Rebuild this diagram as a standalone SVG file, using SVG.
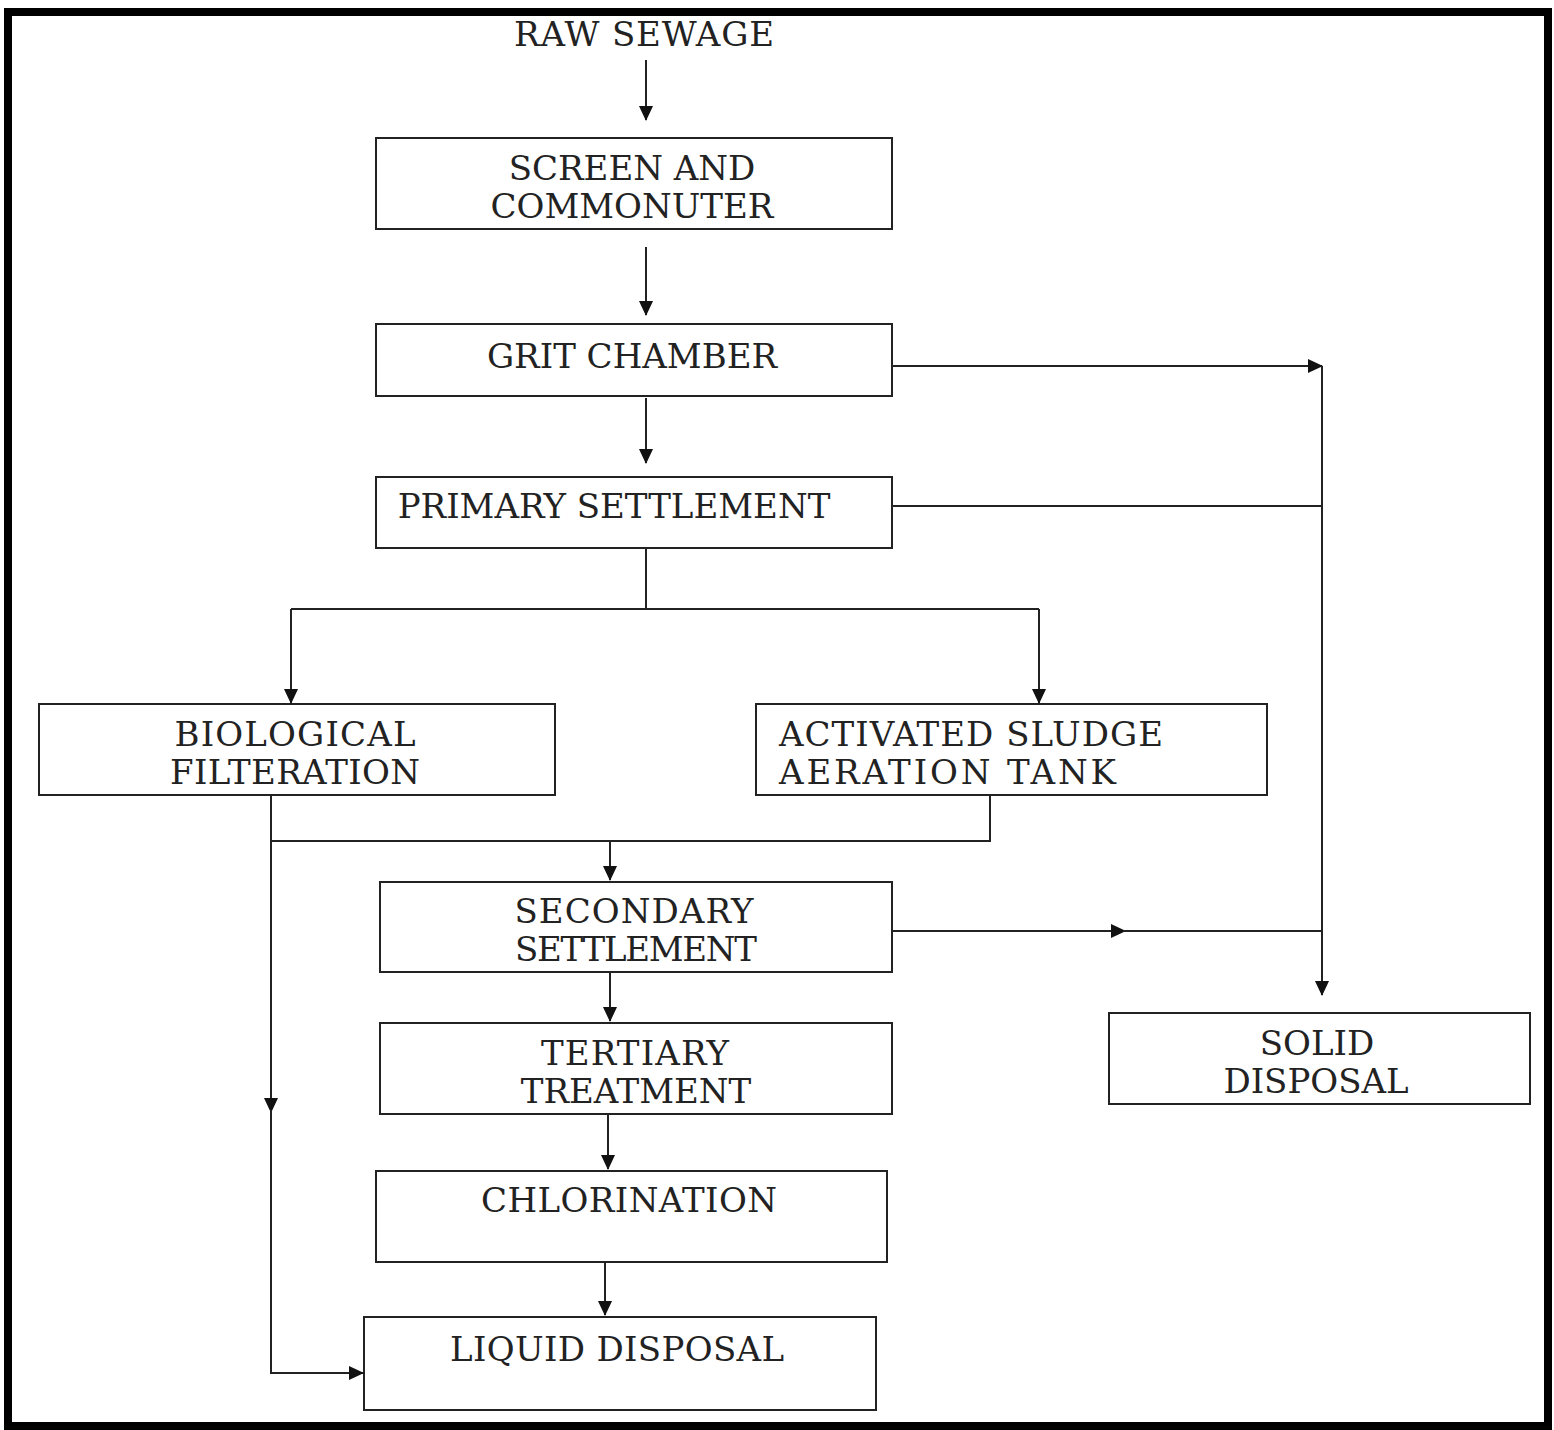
<svg xmlns="http://www.w3.org/2000/svg" width="1554" height="1430" viewBox="0 0 1554 1430">
<style>
.box{fill:#fff;stroke:#222;stroke-width:2}
text{font-family:'DejaVu Serif','Liberation Serif',serif;font-size:34px;fill:#222}
.t{text-anchor:middle}
.c{fill:none;stroke:#222;stroke-width:2}
</style>
<defs>
<marker id="ah" markerUnits="userSpaceOnUse" markerWidth="15" markerHeight="14" refX="14" refY="7" orient="auto">
<path d="M0,0 L15,7 L0,14 z" fill="#111"/>
</marker>
</defs>
<rect x="0" y="0" width="1554" height="1430" fill="#fff"/>
<rect x="8" y="12" width="1540" height="1414" fill="none" stroke="#000" stroke-width="8"/>

<g id="raw-sewage"><text class="t" x="644" y="46" textLength="260" lengthAdjust="spacing">RAW SEWAGE</text></g>
<g id="screen"><rect class="box" x="376" y="138" width="516" height="91"/><text class="t" x="632" y="180">SCREEN AND</text><text class="t" x="632" y="218">COMMONUTER</text></g>
<g id="grit"><rect class="box" x="376" y="324" width="516" height="72"/><text class="t" x="632" y="368">GRIT CHAMBER</text></g>
<g id="primary"><rect class="box" x="376" y="477" width="516" height="71"/><text class="t" x="614" y="518">PRIMARY SETTLEMENT</text></g>
<g id="biological"><rect class="box" x="39" y="704" width="516" height="91"/><text class="t" x="295" y="746" textLength="241" lengthAdjust="spacing">BIOLOGICAL</text><text class="t" x="295" y="784" textLength="250" lengthAdjust="spacing">FILTERATION</text></g>
<g id="activated"><rect class="box" x="756" y="704" width="511" height="91"/><text x="779" y="746" textLength="384" lengthAdjust="spacing">ACTIVATED SLUDGE</text><text x="779" y="784" textLength="337" lengthAdjust="spacing">AERATION TANK</text></g>
<g id="secondary"><rect class="box" x="380" y="882" width="512" height="90"/><text class="t" x="634" y="923" textLength="239" lengthAdjust="spacing">SECONDARY</text><text class="t" x="636" y="961" textLength="242" lengthAdjust="spacing">SETTLEMENT</text></g>
<g id="tertiary"><rect class="box" x="380" y="1023" width="512" height="91"/><text class="t" x="635" y="1065" textLength="188" lengthAdjust="spacing">TERTIARY</text><text class="t" x="636" y="1103">TREATMENT</text></g>
<g id="chlorination"><rect class="box" x="376" y="1171" width="511" height="91"/><text class="t" x="629" y="1212" textLength="296" lengthAdjust="spacing">CHLORINATION</text></g>
<g id="liquid"><rect class="box" x="364" y="1317" width="512" height="93"/><text class="t" x="617" y="1361" textLength="334" lengthAdjust="spacing">LIQUID DISPOSAL</text></g>
<g id="solid"><rect class="box" x="1109" y="1013" width="421" height="91"/><text class="t" x="1317" y="1055">SOLID</text><text class="t" x="1316" y="1093">DISPOSAL</text></g>

<g id="connectors">
<path class="c" d="M646 60 V120" marker-end="url(#ah)"/>
<path class="c" d="M646 247 V315" marker-end="url(#ah)"/>
<path class="c" d="M646 398 V463" marker-end="url(#ah)"/>
<path class="c" d="M892 366 H1322" marker-end="url(#ah)"/>
<path class="c" d="M1322 366 V995" marker-end="url(#ah)"/>
<path class="c" d="M892 506 H1322"/>
<path class="c" d="M646 548 V609 M291 609 H1039"/>
<path class="c" d="M291 609 V703" marker-end="url(#ah)"/>
<path class="c" d="M1039 609 V703" marker-end="url(#ah)"/>
<path class="c" d="M271 795 V1112" marker-end="url(#ah)"/>
<path class="c" d="M271 1110 V1373 H363" marker-end="url(#ah)"/>
<path class="c" d="M271 841 H990 V795"/>
<path class="c" d="M610 841 V880" marker-end="url(#ah)"/>
<path class="c" d="M892 931 H1125" marker-end="url(#ah)"/>
<path class="c" d="M1123 931 H1322"/>
<path class="c" d="M610 972 V1021" marker-end="url(#ah)"/>
<path class="c" d="M608 1114 V1169" marker-end="url(#ah)"/>
<path class="c" d="M605 1262 V1315" marker-end="url(#ah)"/>
</g>
</svg>
